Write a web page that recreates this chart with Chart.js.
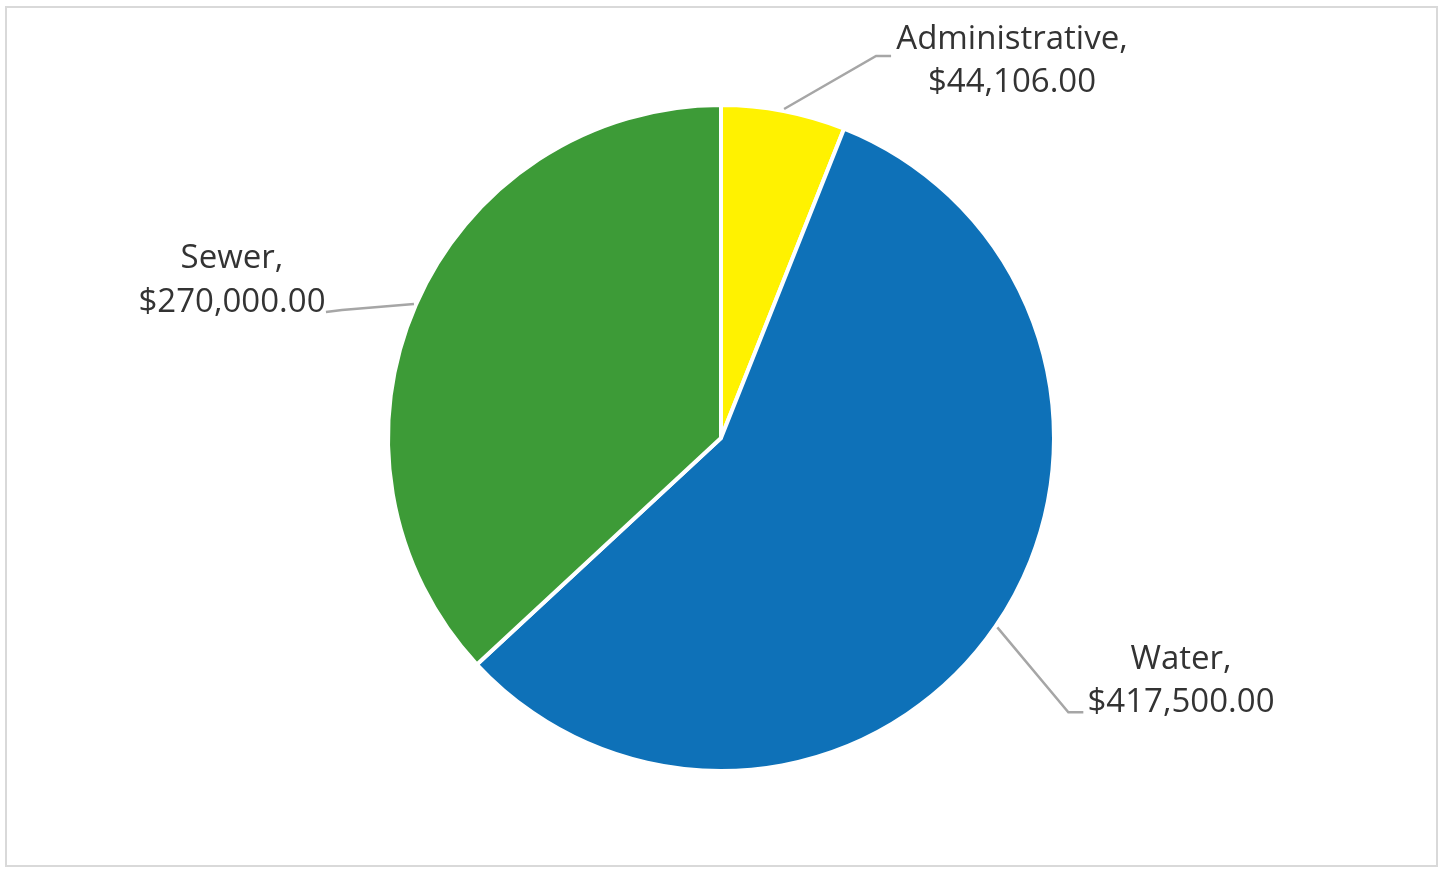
<!DOCTYPE html>
<html>
<head>
<meta charset="utf-8">
<script src="https://cdn.jsdelivr.net/npm/chart.js@4.4.1/dist/chart.umd.min.js"></script>
<style>
  html, body { margin: 0; padding: 0; background: #fff; }
  #wrap { width: 1444px; height: 869px; position: relative; }
</style>
</head>
<body>
<div id="wrap"><canvas id="budgetPie"></canvas></div>
<script>
const categories = ['Administrative', 'Water', 'Sewer'];
const amounts = [44106, 417500, 270000];
const sliceColors = ['#FFF200', '#0E71B8', '#3D9B37'];

// where each callout sits, relative to the pie edge point / centre
const calloutLayout = [
  { elbow: [92, -53], end: [107, -53], text: [291, -398], gap: 43 },
  { elbow: [71, 85], end: [86, 85], text: [460, 222], gap: 43 },
  { elbow: [-72, 6], end: [-88, 8], text: [-489, -179], gap: 44 }
];

function money(v) {
  return v.toLocaleString('en-US', { style: 'currency', currency: 'USD', minimumFractionDigits: 2 });
}

const frame = {
  id: 'frame',
  beforeDraw(chart) {
    const c = chart.ctx;
    c.save();
    c.strokeStyle = '#d9d9d9';
    c.lineWidth = 2;
    c.strokeRect(6, 7, 1431, 859);
    c.restore();
  }
};

const callouts = {
  id: 'callouts',
  afterDatasetsDraw(chart) {
    const c = chart.ctx;
    const meta = chart.getDatasetMeta(0);
    c.save();
    meta.data.forEach(function(arc, i) {
      const lay = calloutLayout[i];
      const mid = (arc.startAngle + arc.endAngle) / 2;
      const px = arc.x + Math.cos(mid) * (arc.outerRadius + 2);
      const py = arc.y + Math.sin(mid) * (arc.outerRadius + 2);
      c.strokeStyle = '#a6a6a6';
      c.lineWidth = 2.5;
      c.beginPath();
      c.moveTo(px, py);
      c.lineTo(px + lay.elbow[0], py + lay.elbow[1]);
      c.lineTo(px + lay.end[0], py + lay.end[1]);
      c.stroke();

      const tx = arc.x + lay.text[0];
      const ty = arc.y + lay.text[1];
      c.fillStyle = '#333333';
      c.font = '33px "Open Sans"';
      c.textAlign = 'center';
      c.textBaseline = 'middle';
      c.fillText(chart.data.labels[i] + ',', tx, ty);
      c.fillText(money(chart.data.datasets[0].data[i]), tx, ty + lay.gap);
    });
    c.restore();
  }
};

new Chart(document.getElementById('budgetPie'), {
  type: 'pie',
  data: {
    labels: categories,
    datasets: [{
      data: amounts,
      backgroundColor: sliceColors,
      borderColor: '#ffffff',
      borderWidth: 4,
      hoverOffset: 0,
      offset: 0
    }]
  },
  options: {
    responsive: true,
    maintainAspectRatio: false,
    animation: false,
    layout: {
      padding: { top: 103, bottom: 96, left: 300, right: 302 }
    },
    plugins: {
      legend: { display: false },
      tooltip: { enabled: false }
    }
  },
  plugins: [frame, callouts]
});
</script>
</body>
</html>
